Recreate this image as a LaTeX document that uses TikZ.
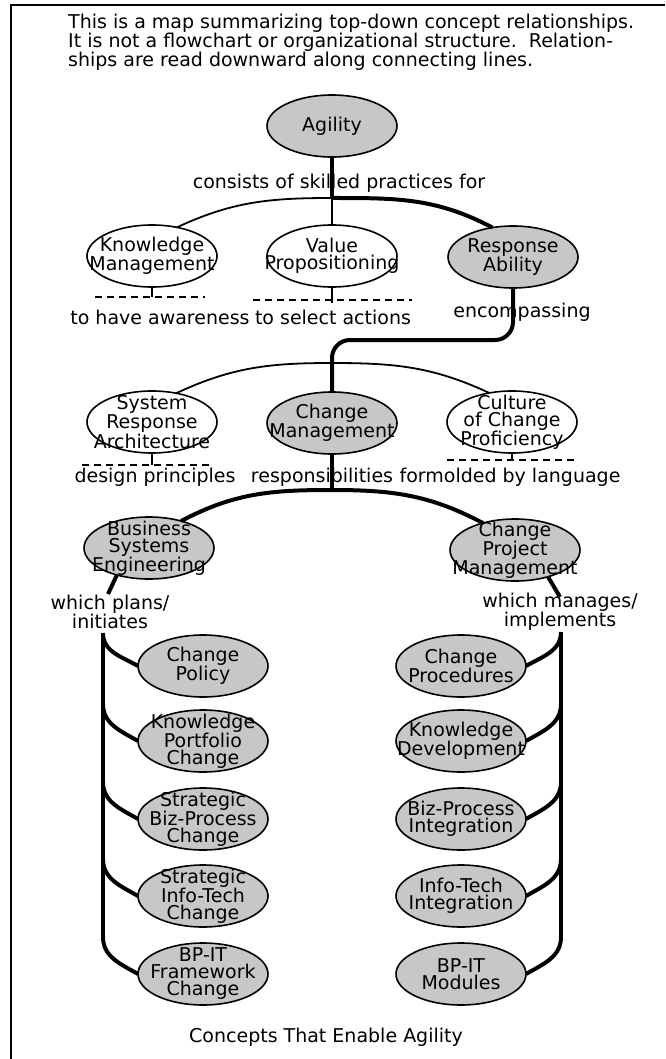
\documentclass[tikz,border=0pt]{standalone}
\usepackage{fontspec}
\setmainfont{DejaVu Sans}
\usetikzlibrary{shapes.geometric}
\definecolor{shade}{gray}{0.78}
% one concept bubble: style, name, position, text
\newcommand\bubble[4]{%
  \node[#1] (#2) at (#3) {};
  \node[btext] (#2-t) at (#2) {#4};}
\begin{document}
\begin{tikzpicture}[x=1pt,y=1pt,
  bubble/.style={ellipse, draw=black, line width=1.6pt, minimum width=130pt,
    minimum height=62pt, inner sep=0pt, outer sep=0pt},
  shaded/.style={bubble, fill=shade},
  plain/.style={bubble, fill=white},
  btext/.style={align=center, font=\fontsize{19}{17}\selectfont, inner sep=0pt},
  lbl/.style={align=center, font=\fontsize{19}{16}\selectfont, inner sep=0pt},
  title/.style={font=\fontsize{19}{19}\selectfont, inner sep=0pt},
  thinlink/.style={line width=1.8pt},
  midlink/.style={line width=2.6pt},
  thicklink/.style={line width=4pt},
  dashlink/.style={line width=1.8pt, dash pattern=on 7pt off 5pt},
]
\useasboundingbox (0,0) rectangle (665,-1059);
\fill[white] (0,0) rectangle (665,-1059);
% frame
\draw[line width=1.5pt] (11,-1059) -- (11,-5) -- (665,-5);

% heading
\node[title, anchor=base west] (t1) at (68,-29) {This is a map summarizing top-down concept relationships.};
\node[title, anchor=base west] (t2) at (68,-48) {It is not a flowchart or organizational structure.\ \ Relation-};
\node[title, anchor=base west] (t3) at (68,-67) {ships are read downward along connecting lines.};

% concepts
\bubble{shaded}{ag}{332,-126}{Agility}
\bubble{plain}{km}{152,-256}{Knowledge\\Management}
\bubble{plain}{vp}{332,-256}{Value\\Propositioning}
\bubble{shaded}{ra}{513,-257}{Response\\Ability}
\bubble{plain}{sra}{152,-422}{System\\Response\\Architecture}
\bubble{shaded}{cm}{332,-423}{Change\\Management}
\bubble{plain}{ccp}{512,-422}{Culture\\of Change\\Proficiency}
\bubble{shaded}{bse}{149,-548}{Business\\Systems\\Engineering}
\bubble{shaded}{cpm}{515,-550}{Change\\Project\\Management}

\bubble{shaded}{cp}{203,-666}{Change\\Policy}
\bubble{shaded}{kpc}{203,-741}{Knowledge\\Portfolio\\Change}
\bubble{shaded}{sbpc}{203,-819}{Strategic\\Biz-Process\\Change}
\bubble{shaded}{sitc}{203,-896}{Strategic\\Info-Tech\\Change}
\bubble{shaded}{bpfc}{203,-974}{BP-IT\\Framework\\Change}

\bubble{shaded}{cpr}{461,-666}{Change\\Procedures}
\bubble{shaded}{kd}{461,-741}{Knowledge\\Development}
\bubble{shaded}{bpi}{461,-819}{Biz-Process\\Integration}
\bubble{shaded}{iti}{461,-896}{Info-Tech\\Integration}
\bubble{shaded}{bpm}{461,-974}{BP-IT\\Modules}

% relation labels
\node[lbl] (consists) at (339,-183) {consists of skilled practices for};
\node[lbl] (aware) at (160,-317) {to have awareness};
\node[lbl] (select) at (333,-317) {to select actions};
\node[lbl] (encomp) at (522,-312) {encompassing};
\node[lbl] (design) at (155,-477) {design principles};
\node[lbl] (resp) at (322,-477) {responsibilities};
\node[lbl] (molded) at (510,-477) {formolded by language};
\node[lbl] (plans) at (110,-612) {which plans/\\initiates};
\node[lbl] (manages) at (560,-612) {which manages/\\implements};
\node[lbl] (caption) at (326,-1037) {Concepts That Enable Agility};

% junction points
\coordinate (j1) at (332,-198);
\coordinate (j2) at (332,-363);
\coordinate (j3) at (332,-490);
\coordinate (c1) at (513,-340);
\coordinate (c2) at (332,-340);

% first level
\draw[thicklink] (ag.south) -- (j1);
\draw[midlink] (j1) -- (vp.north);
\draw[thinlink] (km.49) to[out=25,in=180] (j1);
\draw[thicklink] (j1) to[out=0,in=152] (ra.125);

% label ties under the first level
\coordinate (kmd) at (152,-297);
\coordinate (kmdl) at (95,-297);
\coordinate (kmdr) at (205,-297);
\draw[thinlink] (km.south) -- (kmd);
\draw[dashlink] (kmdl) -- (kmdr);
\coordinate (vpd) at (332,-303);
\coordinate (vpdl) at (253,-300);
\coordinate (vpdr) at (412,-300);
\draw[midlink] (vp.south) -- (vpd);
\draw[dashlink] (vpdl) -- (vpdr);

% second level
\draw[thinlink] (sra.50) to[out=25,in=180] (j2) to[out=0,in=155] (ccp.128);
\draw[thicklink, rounded corners=18pt] (ra.south) -- (c1) -- (c2) -- (cm.north);

\coordinate (srad) at (152,-465);
\coordinate (sradl) at (82,-465);
\coordinate (sradr) at (210,-465);
\draw[thinlink] (sra.south) -- (srad);
\draw[dashlink] (sradl) -- (sradr);
\coordinate (ccpd) at (512,-460);
\coordinate (ccpdl) at (447,-460);
\coordinate (ccpdr) at (577,-460);
\draw[thinlink] (ccp.south) -- (ccpd);
\draw[dashlink] (ccpdl) -- (ccpdr);

% third level
\draw[thicklink] (cm.south) -- (j3);
\draw[thicklink] (bse.40) to[out=28,in=180] (j3) to[out=0,in=152] (cpm.140);

\coordinate (pl) at (108,-594);
\coordinate (mg) at (560,-597);
\draw[thicklink] (bse.220) -- (pl);
\draw[thicklink] (cpm.321) -- (mg);

% left column
\coordinate (lt) at (103,-633);
\coordinate (lb) at ([yshift=6pt]lt |- bpfc.north);
\draw[thicklink] (lt) -- (lb);
\draw[thicklink] (lt) to[out=-90,in=150] (cp.west);
\draw[thicklink] ([yshift=6pt]lt |- kpc.north) to[out=-90,in=150] (kpc.west);
\draw[thicklink] ([yshift=6pt]lt |- sbpc.north) to[out=-90,in=150] (sbpc.west);
\draw[thicklink] ([yshift=6pt]lt |- sitc.north) to[out=-90,in=150] (sitc.west);
\draw[thicklink] (lb) to[out=-90,in=150] (bpfc.west);

% right column
\coordinate (rt) at (561,-632);
\coordinate (rb) at ([yshift=6pt]rt |- bpm.north);
\draw[thicklink] (rt) -- (rb);
\draw[thicklink] (rt) to[out=-90,in=30] (cpr.east);
\draw[thicklink] ([yshift=6pt]rt |- kd.north) to[out=-90,in=30] (kd.east);
\draw[thicklink] ([yshift=6pt]rt |- bpi.north) to[out=-90,in=30] (bpi.east);
\draw[thicklink] ([yshift=6pt]rt |- iti.north) to[out=-90,in=30] (iti.east);
\draw[thicklink] (rb) to[out=-90,in=30] (bpm.east);
\end{tikzpicture}
\end{document}
